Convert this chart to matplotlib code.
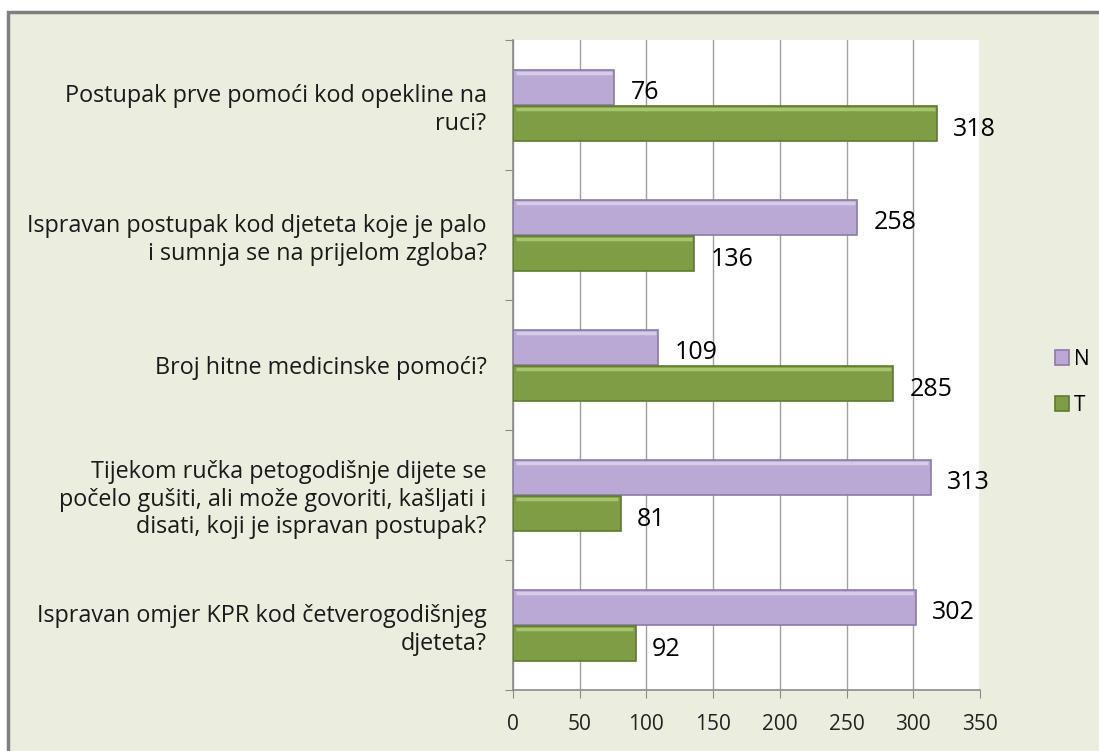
import matplotlib.pyplot as plt
import matplotlib.patches as mpatches
import numpy as np

plt.rcParams['font.family'] = ['Open Sans', 'DejaVu Sans']

# data (top to bottom as shown)
questions = [
    "Postupak prve pomoći kod opekline na\nruci?",
    "Ispravan postupak kod djeteta koje je palo\ni sumnja se na prijelom zgloba?",
    "Broj hitne medicinske pomoći?",
    "Tijekom ručka petogodišnje dijete se\npočelo gušiti, ali može govoriti, kašljati i\ndisati, koji je ispravan postupak?",
    "Ispravan omjer KPR kod četverogodišnjeg\ndjeteta?",
]
n_vals = [76, 258, 109, 313, 302]
t_vals = [318, 136, 285, 81, 92]
x_ticks = [0, 50, 100, 150, 200, 250, 300, 350]

bg = '#ebeedf'
fig = plt.figure(figsize=(10.99, 7.51), dpi=100)
fig.patch.set_facecolor('white')
# outer chart frame
fig.patches.append(mpatches.Rectangle((8/1099, -0.05), 1.1, 1 - 12/751 + 0.05,
                                      transform=fig.transFigure, facecolor=bg,
                                      edgecolor='#7f7f7f', linewidth=2.5, zorder=-10))

ax = fig.add_axes([513/1099, 1 - 690/751, 467/1099, 650/751])
ax.set_facecolor('white')

y = np.arange(len(questions))
h = 0.27
bn = ax.barh(y - 0.135, n_vals, height=h, color='#b9a9d4', edgecolor='#8c7aa8',
             linewidth=1.2, zorder=3, label='N')
bt = ax.barh(y + 0.145, t_vals, height=h, color='#7f9d45', edgecolor='#5f7a2e',
             linewidth=1.2, zorder=3, label='T')
# lighter highlights on top of bars
for bars, col in ((bn, '#d6cce6'), (bt, '#a9c46e')):
    for b in bars:
        ax.plot([b.get_x() + 2, b.get_x() + b.get_width() - 2],
                [b.get_y() + 0.02] * 2, color=col, lw=2.5, zorder=4,
                solid_capstyle='butt')

for b, v in zip(bn, n_vals):
    ax.text(v + 12, b.get_y() + b.get_height() / 2 + 0.04, str(v), va='center',
            ha='left', fontsize=18, color='black', zorder=5)
for b, v in zip(bt, t_vals):
    ax.text(v + 12, b.get_y() + b.get_height() / 2 + 0.04, str(v), va='center',
            ha='left', fontsize=18, color='black', zorder=5)

ax.set_xlim(0, 350)
ax.set_ylim(len(questions) - 0.5, -0.5)
ax.set_xticks(x_ticks)
ax.set_xticklabels([str(t) for t in x_ticks], fontsize=15, color='#222222')
ax.xaxis.grid(True, color='#a0a0a0', lw=1, zorder=0)
ax.tick_params(axis='x', direction='out', length=6, color='#8a8a8a', pad=11)

# y ticks at category boundaries, labels at centers
ax.set_yticks(np.arange(-0.5, len(questions)), minor=False)
ax.set_yticklabels([])
ax.set_yticks(y, minor=True)
ax.set_yticklabels(questions, minor=True, fontsize=16.8, color='#1a1a1a',
                   ha='right', linespacing=1.2)
ax.tick_params(axis='y', which='minor', length=0, pad=19)
ax.tick_params(axis='y', which='major', direction='out', length=6, color='#8a8a8a')

for s in ('top', 'right'):
    ax.spines[s].set_visible(False)
for s in ('left', 'bottom'):
    ax.spines[s].set_color('#8a8a8a')
    ax.spines[s].set_linewidth(1.2)

fig.legend(handles=[bn, bt], labels=['N', 'T'], loc='center left',
           bbox_to_anchor=(1036/1099, 1 - 382/751), frameon=False, fontsize=15,
           handlelength=0.7, handleheight=0.7, handletextpad=0.2, labelspacing=1.2)

fig.savefig('out.png', dpi=100, facecolor=fig.get_facecolor())
